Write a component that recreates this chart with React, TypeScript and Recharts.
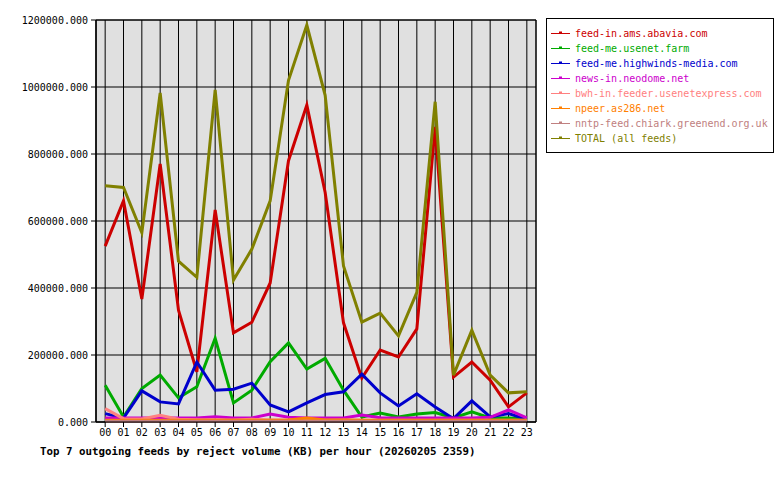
import { LineChart, Line, XAxis, YAxis, CartesianGrid, ReferenceArea } from "recharts";

/* hours of the day */
const hours = [
  "00", "01", "02", "03", "04", "05", "06", "07", "08", "09", "10", "11",
  "12", "13", "14", "15", "16", "17", "18", "19", "20", "21", "22", "23",
];

/* reject volume per feed (KB) */
const abavia = [525000, 660000, 367000, 770000, 334000, 150000, 633000, 266000, 298000, 415000, 780000, 946000, 685000, 296000, 131000, 215000, 194000, 278000, 881000, 134000, 179000, 125000, 45000, 87000];
const usenetFarm = [110000, 15000, 100000, 140000, 72000, 105000, 250000, 57000, 95000, 180000, 236000, 158000, 190000, 95000, 15000, 27000, 15000, 24000, 28000, 12000, 30000, 12000, 12000, 9000];
const highwinds = [25000, 12000, 93000, 60000, 54000, 179000, 95000, 98000, 116000, 51000, 30000, 57000, 82000, 90000, 143000, 87000, 48000, 84000, 45000, 10000, 63000, 15000, 25000, 8000];
const neodome = [12000, 12000, 12000, 12000, 12000, 12000, 16000, 12000, 12000, 24000, 14000, 12000, 12000, 12000, 21000, 13000, 12000, 12000, 12000, 12000, 12000, 14000, 36000, 12000];
const usenetexpress = [40000, 10000, 9000, 20000, 8000, 7000, 7000, 6000, 8000, 6000, 6000, 5000, 5000, 6000, 5000, 5000, 5000, 5000, 5000, 5000, 5000, 5000, 5000, 5000];
const as286 = [5000, 5000, 5000, 5000, 5000, 5000, 5000, 5000, 5000, 5000, 6000, 12000, 6000, 6000, 5000, 5000, 5000, 5000, 5000, 5000, 5000, 5000, 5000, 5000];
const chiark = [2000, 2000, 2000, 2000, 2000, 2000, 2000, 2000, 2000, 2000, 2000, 2000, 2000, 2000, 2000, 2000, 2000, 2000, 2000, 2000, 2000, 2000, 2000, 2000];
const total = [705000, 700000, 565000, 982000, 480000, 432000, 991000, 424000, 516000, 660000, 1020000, 1185000, 975000, 466000, 298000, 325000, 257000, 387000, 956000, 140000, 274000, 140000, 87000, 90000];

const yTicks = [0, 200000, 400000, 600000, 800000, 1000000, 1200000];

const series = [
  { key: "abavia", name: "feed-in.ams.abavia.com", color: "#cc0000", values: abavia },
  { key: "usenetFarm", name: "feed-me.usenet.farm", color: "#00aa00", values: usenetFarm },
  { key: "highwinds", name: "feed-me.highwinds-media.com", color: "#0000cc", values: highwinds },
  { key: "neodome", name: "news-in.neodome.net", color: "#cc00cc", values: neodome },
  { key: "usenetexpress", name: "bwh-in.feeder.usenetexpress.com", color: "#ff8080", values: usenetexpress },
  { key: "as286", name: "npeer.as286.net", color: "#ff8000", values: as286 },
  { key: "chiark", name: "nntp-feed.chiark.greenend.org.uk", color: "#c08080", values: chiark },
  { key: "total", name: "TOTAL (all feeds)", color: "#808000", values: total },
];

const data = hours.map((h, i) => {
  const row: Record<string, number | string> = { hour: i, label: h };
  series.forEach((s) => {
    row[s.key] = s.values[i];
  });
  return row;
});

const font = "'DejaVu Sans Mono', monospace";

const LegendBox = () => (
  <div
    style={{
      position: "absolute",
      left: 546,
      top: 18,
      border: "1px solid #000",
      background: "#fff",
      width: 226,
      height: 126,
      paddingTop: 7,
      fontFamily: font,
      fontSize: 10,
    }}
  >
    {series.map((s) => (
      <div key={s.key} style={{ display: "flex", alignItems: "center", height: 15, color: s.color }}>
        <svg width={28} height={15} style={{ flex: "none" }}>
          <line x1={4} y1={7.5} x2={23} y2={7.5} stroke={s.color} strokeWidth={1} />
          <rect x={12} y={5.5} width={3} height={2} fill={s.color} />
        </svg>
        <span style={{ whiteSpace: "nowrap" }}>{s.name}</span>
      </div>
    ))}
  </div>
);

export default function App() {
  return (
    <div style={{ position: "absolute", left: 0, top: 0, width: 780, height: 480, background: "#fff" }}>
      <LineChart
        width={780}
        height={480}
        data={data}
        margin={{ top: 20, right: 244, bottom: 0, left: 0 }}
      >
        <CartesianGrid fill="#e0e0e0" stroke="#000" strokeWidth={1} />
        <XAxis
          dataKey="hour"
          type="number"
          domain={[-0.5, 23.5]}
          ticks={hours.map((_, i) => i)}
          tickFormatter={(v) => hours[v]}
          interval={0}
          height={58}
          tickSize={5}
          tickMargin={2}
          stroke="#000"
          tick={{ fill: "#000", fontFamily: font, fontSize: 10 }}
        />
        <YAxis
          type="number"
          domain={[0, 1200000]}
          ticks={yTicks}
          tickFormatter={(v) => v.toFixed(3)}
          width={96}
          tickSize={5}
          tickMargin={3}
          stroke="#000"
          tick={{ fill: "#000", fontFamily: font, fontSize: 10 }}
        />
        <ReferenceArea x1={-0.5} x2={23.5} y1={0} y2={1200000} fill="none" stroke="#000" strokeWidth={1} />
        {series.map((s) => (
          <Line
            key={s.key}
            dataKey={s.key}
            name={s.name}
            stroke={s.color}
            strokeWidth={3}
            dot={false}
            activeDot={false}
            isAnimationActive={false}
          />
        ))}
      </LineChart>
      <LegendBox />
      <div
        style={{
          position: "absolute",
          left: 40,
          top: 445,
          fontFamily: font,
          fontSize: 10.8,
          fontWeight: "bold",
          whiteSpace: "nowrap",
        }}
      >
        Top 7 outgoing feeds by reject volume (KB) per hour (20260205 2359)
      </div>
    </div>
  );
}
